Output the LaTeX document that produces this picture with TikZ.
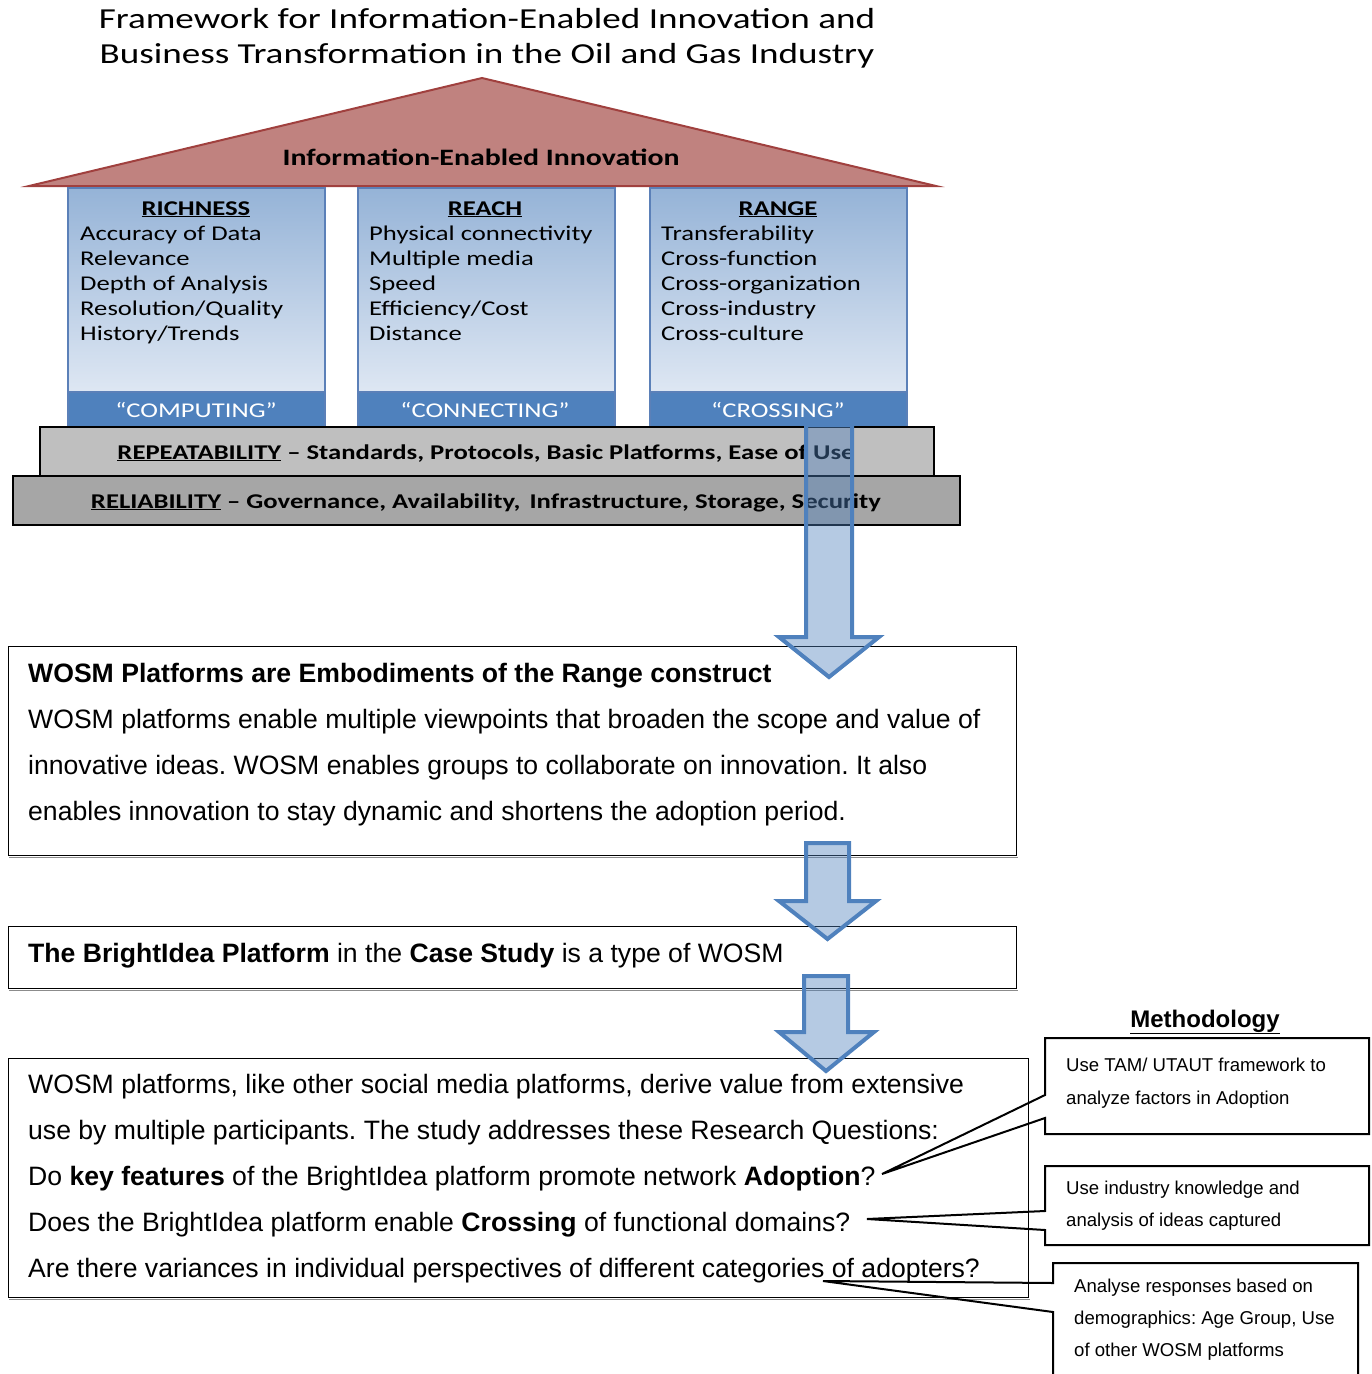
\documentclass[tikz,border=0pt]{standalone}
\usepackage{fontspec}
\setmainfont{Liberation Sans}
\newfontfamily\platfont{Carlito}[FakeStretch=1.27]
\newfontfamily\titlefont{Carlito}[FakeStretch=1.28]
\definecolor{roof}{HTML}{C0827F}
\definecolor{roofline}{HTML}{A0403E}
\definecolor{coltop}{HTML}{95B3D7}
\definecolor{colbot}{HTML}{DEE7F3}
\definecolor{colline}{HTML}{5B80B8}
\definecolor{band}{HTML}{4F81BD}
\definecolor{barlight}{HTML}{BFBFBF}
\definecolor{bardark}{HTML}{A6A6A6}
\definecolor{arrline}{HTML}{4F81BD}
\definecolor{shadowgray}{HTML}{8C8C8C}
\frenchspacing
\begin{document}
\begin{tikzpicture}[x=1pt,y=-1pt,
  plat/.style={font=\platfont\fontsize{21}{25}\selectfont, inner sep=0pt},
  colitem/.style={plat, anchor=base west},
  colhead/.style={font=\platfont\bfseries\fontsize{21}{25}\selectfont, inner sep=0pt, anchor=base},
  bandtext/.style={plat, anchor=base, text=white},
  bartext/.style={font=\platfont\bfseries\fontsize{21}{25}\selectfont, inner sep=0pt, anchor=base},
  mainbox/.style={draw=black, line width=1.4pt, anchor=north west, inner sep=0pt},
  maintext/.style={font=\fontsize{26.6}{30}\selectfont, anchor=base west, inner sep=0pt},
  calltext/.style={font=\fontsize{18.6}{22}\selectfont, anchor=base west, inner sep=0pt},
  callout/.style={draw=black, line width=2pt, line join=miter},
  blockarrow/.style={draw=arrline, line width=4pt, fill=arrline, fill opacity=0.42, line join=miter},
  pillar/.style={draw=colline, line width=2pt},
  boxshadow/.style={draw=shadowgray, line width=1.2pt}
]
\useasboundingbox (0,0) rectangle (1372,1374);

% title
\node[font=\titlefont\fontsize{29}{35}\selectfont, inner sep=0pt, anchor=base] (title1) at (487,28) {Framework for Information-Enabled Innovation and};
\node[font=\titlefont\fontsize{29}{35}\selectfont, inner sep=0pt, anchor=base] (title2) at (487,63) {Business Transformation in the Oil and Gas Industry};

% roof
\draw[fill=roof, draw=roofline, line width=2pt, line join=miter] (29,186) -- (482,78) -- (936,186) -- cycle;
\node[font=\platfont\bfseries\fontsize{23.5}{27}\selectfont, inner sep=0pt, anchor=base] (roofText) at (481,165) {Information-Enabled Innovation};

% pillars
\foreach \xl/\xr in {68/325, 358/615, 650/907}{
  \shade[top color=coltop, bottom color=colbot] (\xl,188) rectangle (\xr,392);
  \fill[band] (\xl,392) rectangle (\xr,427);
  \draw[pillar] (\xl,188) rectangle (\xr,427);
  \draw[colline, line width=1.5pt] (\xl,392) -- (\xr,392);
}

\node[colhead] (richness) at (196,215) {\underline{RICHNESS}};
\node[colitem] (r1) at (80,240) {Accuracy of Data};
\node[colitem] (r2) at (80,265.2) {Relevance};
\node[colitem] (r3) at (80,290.4) {Depth of Analysis};
\node[colitem] (r4) at (80,315.6) {Resolution/Quality};
\node[colitem] (r5) at (80,340.8) {History/Trends};
\node[bandtext] (computing) at (196,417) {“COMPUTING”};

\node[colhead] (reach) at (485,215) {\underline{REACH}};
\node[colitem] (c1) at (369,240) {Physical connectivity};
\node[colitem] (c2) at (369,265.2) {Multiple media};
\node[colitem] (c3) at (369,290.4) {Speed};
\node[colitem] (c4) at (369,315.6) {Efficiency/Cost};
\node[colitem] (c5) at (369,340.8) {Distance};
\node[bandtext] (connecting) at (485,417) {“CONNECTING”};

\node[colhead] (range) at (778,215) {\underline{RANGE}};
\node[colitem] (g1) at (661,240) {Transferability};
\node[colitem] (g2) at (661,265.2) {Cross-function};
\node[colitem] (g3) at (661,290.4) {Cross-organization};
\node[colitem] (g4) at (661,315.6) {Cross-industry};
\node[colitem] (g5) at (661,340.8) {Cross-culture};
\node[bandtext] (crossing) at (778,417) {“CROSSING”};

% foundation bars
\draw[fill=barlight, draw=black, line width=2pt] (40,427) rectangle (934,476);
\draw[fill=bardark, draw=black, line width=2pt] (13,476) rectangle (960,525);
\node[bartext] (repeat) at (486,459) {\underline{REPEATABILITY} – Standards, Protocols, Basic Platforms, Ease of Use};
\node[bartext] (reliab) at (486,508) {\underline{RELIABILITY} – Governance, Availability,\hspace{3pt} Infrastructure, Storage, Security};

% main boxes
\draw[boxshadow] (9,857.5) -- (1018,857.5);
\draw[boxshadow] (9,990.5) -- (1018,990.5);
\draw[boxshadow] (9,1299.5) -- (1030,1299.5);
\node[mainbox, minimum width=1008pt, minimum height=209pt] (boxA) at (8,646) {};
\node[maintext, font=\bfseries\fontsize{26.6}{30}\selectfont] (aHead) at (28,682) {WOSM Platforms are Embodiments of the Range construct};
\node[maintext] (a1) at (28,728) {WOSM platforms enable multiple viewpoints that broaden the scope and value of};
\node[maintext] (a2) at (28,774) {innovative ideas. WOSM enables groups to collaborate on innovation. It also};
\node[maintext] (a3) at (28,820) {enables innovation to stay dynamic and shortens the adoption period.};

\node[mainbox, minimum width=1008pt, minimum height=62pt] (boxB) at (8,926) {};
\node[maintext] (b1) at (28,962) {\textbf{The BrightIdea Platform} in the \textbf{Case Study} is a type of WOSM};

\node[mainbox, minimum width=1020pt, minimum height=239pt] (boxC) at (8,1058) {};
\node[maintext] (q1) at (28,1093) {WOSM platforms, like other social media platforms, derive value from extensive};
\node[maintext] (q2) at (28,1139) {use by multiple participants. The study addresses these Research Questions:};
\node[maintext] (q3) at (28,1185) {Do \textbf{key features} of the BrightIdea platform promote network \textbf{Adoption}?};
\node[maintext] (q4) at (28,1231) {Does the BrightIdea platform enable \textbf{Crossing} of functional domains?};
\node[maintext] (q5) at (28,1277) {Are there variances in individual perspectives of different categories of adopters?};

% methodology
\node[font=\bfseries\fontsize{24}{28}\selectfont, inner sep=0pt, anchor=base] (meth) at (1205,1027) {\underline{Methodology}};

\coordinate (tip1) at (882,1174);
\coordinate (tip2) at (867,1219);
\coordinate (tip3) at (823,1281);
\draw[callout] (1045,1095) -- (1045,1038) -- (1369,1038) -- (1369,1134) -- (1045,1134) -- (1045,1118) -- (tip1) -- cycle;
\draw[callout] (1045,1211) -- (1045,1166) -- (1369,1166) -- (1369,1245) -- (1045,1245) -- (1045,1230) -- (tip2) -- cycle;
\draw[callout] (1053,1283) -- (1053,1263) -- (1358,1263) -- (1358,1390) -- (1053,1390) -- (1053,1312) -- (tip3) -- cycle;

\node[calltext] (m1a) at (1066,1071) {Use TAM/ UTAUT framework to};
\node[calltext] (m1b) at (1066,1104) {analyze factors in Adoption};
\node[calltext] (m2a) at (1066,1194) {Use industry knowledge and};
\node[calltext] (m2b) at (1066,1226) {analysis of ideas captured};
\node[calltext] (m3a) at (1074,1292) {Analyse responses based on};
\node[calltext] (m3b) at (1074,1324) {demographics: Age Group, Use};
\node[calltext] (m3c) at (1074,1356) {of other WOSM platforms};

% block arrows
\draw[blockarrow] (806,425) -- (852,425) -- (852,637) -- (879,637) -- (829,677) -- (779,637) -- (806,637) -- cycle;
\draw[blockarrow] (806,843) -- (849,843) -- (849,901) -- (876,901) -- (827.5,939) -- (779,901) -- (806,901) -- cycle;
\draw[blockarrow] (804,976) -- (848,976) -- (848,1032) -- (874,1032) -- (826,1071) -- (779,1032) -- (804,1032) -- cycle;
\end{tikzpicture}
\end{document}
